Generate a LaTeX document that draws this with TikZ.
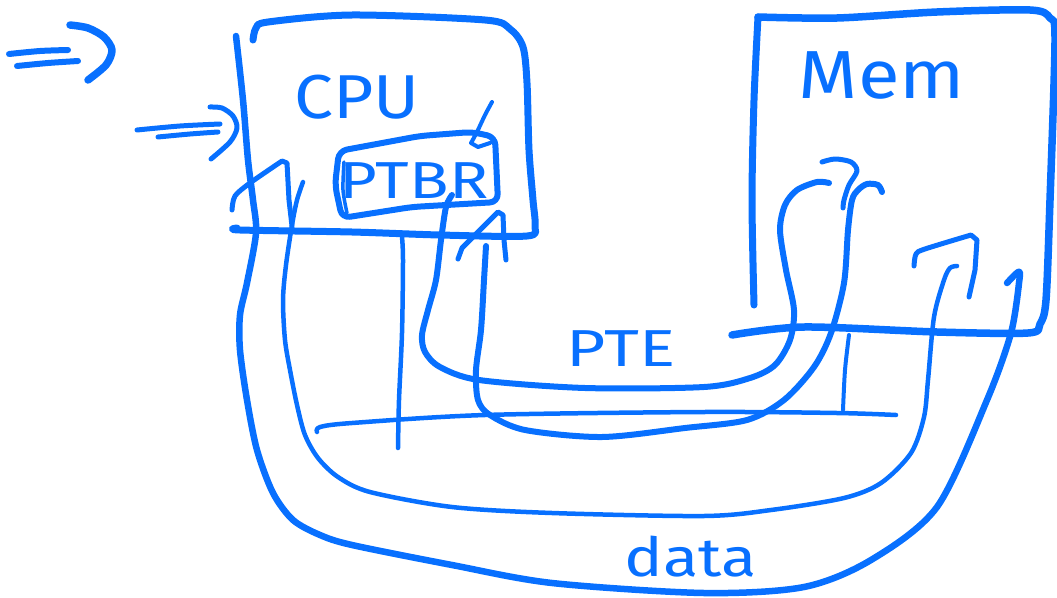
\documentclass[tikz,border=0pt]{standalone}
\usepackage{fontspec}
\setmainfont{Fira Sans}
\definecolor{ink}{RGB}{8,112,255}
\begin{document}
\begin{tikzpicture}[x=1pt,y=-1pt,
  pen/.style={draw=ink,line cap=round,line join=round,line width=#1},
  pen/.default=5,
  handtext/.style={text=ink,inner sep=0pt,anchor=base}]
\useasboundingbox (0,0) rectangle (1057,597);

% double arrow, top left
\draw[pen=6] plot[smooth] coordinates {(9,54) (40,51) (68,50)};
\draw[pen=6] plot[smooth] coordinates {(17,66) (48,63) (78,61)};
\draw[pen=7.5] plot[smooth] coordinates {(70,25) (88,28) (104,37) (112,50) (106,65) (88,80)};

% double arrow pointing at the CPU
\draw[pen=5] plot[smooth] coordinates {(137,130) (180,126) (220,124)};
\draw[pen=5] plot[smooth] coordinates {(158,137) (190,134) (218,132)};
\draw[pen=5] plot[smooth] coordinates {(210,107) (222,108) (233,116) (237,128) (230,142) (211,159)};

% CPU box: top, right side and bottom
\draw[pen=7] plot[smooth] coordinates {(253,40) (256,28) (268,22) (352,15) (485,20) (510,29) (523,47) (527,83) (529,150) (533,200) (535,226) (527,236) (440,235) (352,232) (240,230) (237,228)};

% CPU left side, running on into the outer data loop
\draw[pen=6.5] plot[smooth] coordinates {(236,36) (243,100) (248,160) (253,200) (256,233) (247,283) (240,315) (240,350) (247,400) (257,450) (273,493) (293,520) (320,535) (352,545) (452,565) (552,583) (704,593) (804,587) (871,560) (937,507) (987,400) (1011,333) (1019,283)} .. controls (1021,268) .. (1007,283);

% middle loop
\draw[pen=4.5] plot[smooth] coordinates {(303,182) (297,200) (292,225) (286,265) (283,300) (285,340) (290,370) (297,405) (305,435) (318,458) (338,477) (370,492) (452,507) (552,513) (704,516) (771,510) (844,498) (881,483) (911,453) (924,417) (928,380) (934,317) (944,280) (950,268) (957,266)};

% up arrow at the CPU bottom left
\draw[pen=5] plot[smooth] coordinates {(232,210) (235,196) (250,183) (282,161)} -- (287,163) -- (289,200) -- (292,226);

% PTBR register box
\draw[pen=6,rounded corners=8pt] (339,151) -- (420,136) -- (472,132) -- (495,137) -- (498,202) -- (412,207) -- (342,218) -- (335,185) -- cycle;
\draw[pen=3.5] plot[smooth] coordinates {(344,162) (343,190) (347,213)};
\draw[pen=4] plot[smooth] coordinates {(492,102) (485,115) (477,132) (471,143)} -- (478,147) -- (490,143);

% up arrow at the CPU bottom right
\draw[pen=5] (458,259) -- (462,248) -- (485,225) -- (498,212) -- (503,215) -- (504,240) -- (506,260);

% vertical line below the CPU
\draw[pen=4.5] plot[smooth] coordinates {(402,237) (403,260) (402,333) (399,400) (398,448)};

% PTE loop from PTBR into memory
\draw[pen=6] plot[smooth] coordinates {(452,195) (446,207) (441,240) (436,280) (428,310) (422,335) (425,352) (440,367) (479,380) (585,388) (704,387) (750,378) (775,365) (790,340) (794,310) (786,270) (780,230) (785,205) (797,190) (817,182) (829,183)};

% loop from memory back up to the CPU
\draw[pen=6] plot[smooth] coordinates {(486,246) (484,280) (481,330) (476,370) (478,400) (490,415) (525,430) (602,437) (685,428) (747,420) (784,400) (814,367) (831,333) (844,283) (848,230) (852,200) (858,190) (867,184) (878,185) (882,192)};

% long horizontal line
\draw[pen=4.5] plot[smooth] coordinates {(317,432) (320,427) (352,423) (485,415) (704,412) (837,413) (896,415)};

% Mem box
\draw[pen=7] plot[smooth] coordinates {(754,305) (752,200) (754,100) (758,17)};
\draw[pen=7.5] plot[smooth] coordinates {(758,17) (837,18) (937,12) (1030,10) (1050,18) (1055,40) (1050,200) (1046,300) (1040,324) (1028,333) (937,332) (804,327) (732,335)};

% strokes inside the memory
\draw[pen=5] plot[smooth] coordinates {(822,162) (835,159) (851,162) (857,171) (849,185) (844,200) (843,208)};
\draw[pen=4] plot[smooth] coordinates {(849,335) (845,370) (843,410)};
\draw[pen=5] plot[smooth] coordinates {(914,266) (916,254) (925,249) (971,235)} -- (977,240) -- (975,270) -- (969,297);

% labels
\node[handtext,xscale=1.12] (cpu) at (357,118) {\fontsize{62}{62}\selectfont CPU};
\node[handtext,xscale=1.12] (mem) at (882,98) {\fontsize{68}{68}\selectfont Mem};
\node[handtext,xscale=1.25] (ptbr) at (414,198) {\fontsize{52}{52}\selectfont PTBR};
\node[handtext,xscale=1.3] (pte) at (621,366) {\fontsize{52}{52}\selectfont PTE};
\node[handtext,xscale=1.2] (data) at (691,576) {\fontsize{54}{54}\selectfont data};
\end{tikzpicture}
\end{document}
